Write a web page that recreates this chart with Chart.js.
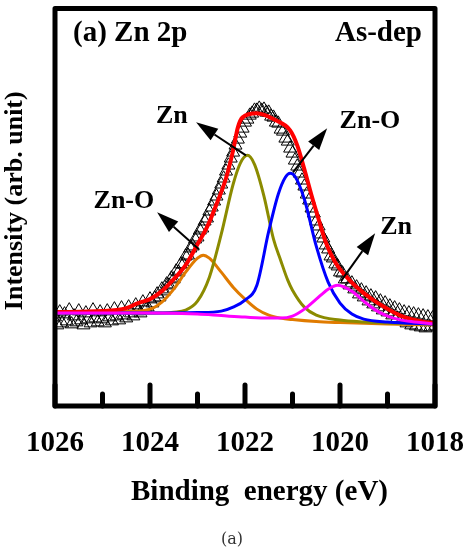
<!DOCTYPE html>
<html><head><meta charset="utf-8">
<script src="https://cdn.jsdelivr.net/npm/chart.js@4/dist/chart.umd.min.js"></script>
<style>html,body{margin:0;padding:0;background:#fff;overflow:hidden}canvas{display:block}</style>
</head><body>
<canvas id="c" width="465" height="550"></canvas>
<script>
// ---- data (binding energy in eV, intensity in arb. units) ----
const measuredEnergy = [
  1026.00,1025.95,1025.90,1025.85,1025.80,1025.75,1025.70,1025.65,1025.60,1025.55,1025.50,1025.45,1025.40,1025.35,1025.30,1025.25,1025.20,1025.15,1025.10,1025.05,
  1025.00,1024.95,1024.90,1024.85,1024.80,1024.75,1024.70,1024.65,1024.60,1024.55,1024.50,1024.45,1024.40,1024.35,1024.30,1024.25,1024.20,1024.15,1024.10,1024.05,
  1024.00,1023.95,1023.90,1023.85,1023.80,1023.75,1023.70,1023.65,1023.60,1023.55,1023.50,1023.45,1023.40,1023.35,1023.30,1023.25,1023.20,1023.15,1023.10,1023.05,
  1023.00,1022.95,1022.90,1022.85,1022.80,1022.75,1022.70,1022.65,1022.60,1022.55,1022.50,1022.45,1022.40,1022.35,1022.30,1022.25,1022.20,1022.15,1022.10,1022.05,
  1022.00,1021.95,1021.90,1021.85,1021.80,1021.75,1021.70,1021.65,1021.60,1021.55,1021.50,1021.45,1021.40,1021.35,1021.30,1021.25,1021.20,1021.15,1021.10,1021.05,
  1021.00,1020.95,1020.90,1020.85,1020.80,1020.75,1020.70,1020.65,1020.60,1020.55,1020.50,1020.45,1020.40,1020.35,1020.30,1020.25,1020.20,1020.15,1020.10,1020.05,
  1020.00,1019.95,1019.90,1019.85,1019.80,1019.75,1019.70,1019.65,1019.60,1019.55,1019.50,1019.45,1019.40,1019.35,1019.30,1019.25,1019.20,1019.15,1019.10,1019.05,
  1019.00,1018.95,1018.90,1018.85,1018.80,1018.75,1018.70,1018.65,1018.60,1018.55,1018.50,1018.45,1018.40,1018.35,1018.30,1018.25,1018.20,1018.15,1018.10,1018.05,
  1018.00];
const measuredIntensity = [
  90,82,95,84,93,86,97,83,91,85,96,87,82,94,88,84,97,89,85,95,
  88,84,96,90,86,98,91,87,99,92,89,100,94,91,102,96,94,105,99,100,
  108,104,109,113,110,118,116,123,122,129,128,136,135,143,143,151,152,159,161,168,
  170,177,179,186,189,196,200,206,211,217,223,229,236,242,249,255,262,268,274,279,
  285,288,292,294,297,297,299,297,298,295,295,291,290,285,284,278,276,269,266,259,
  254,247,241,234,227,221,213,207,199,194,186,181,173,169,162,158,151,149,143,141,
  135,134,128,128,122,124,118,120,113,117,110,114,106,111,103,109,100,106,97,104,
  95,101,92,99,89,97,87,95,84,94,82,93,81,92,80,91,79,90,80,89,
  81];

const envelopeEnergy = [1026,1025,1024.5,1024.25,1024,1023.75,1023.5,1023.25,1023,1022.8,1022.6,1022.4,1022.25,1022.15,1022.05,1021.75,1021.35,1021.05,1020.9,1020.75,1020.6,1020.45,1020.3,1020.1,1019.8,1019.5,1019.2,1018.75,1018.5,1018.2,1018];
const envelopeIntensity = [95,96,99,104,108,116,128,142,163,180,203,229,257,280,290,294,287,277,262,238,212,188,165,145,127,114,104,92,88,85,84];

const zn1022Energy = [1026,1024.5,1024,1023.5,1023.25,1023,1022.75,1022.5,1022.25,1022.1,1021.95,1021.8,1021.6,1021.4,1021.25,1021.1,1021,1020.75,1020.5,1020,1019.5,1019,1018];
const zn1022Intensity = [94,94,94,95,97,106,130,173,223,244,252,243,211,168,147,127,117,100,92,87,85,84,83];

const znO1021Energy = [1026,1024,1023,1022.5,1022.25,1022,1021.75,1021.5,1021.3,1021.15,1021.05,1020.95,1020.75,1020.5,1020.25,1020,1019.75,1019.5,1019,1018];
const znO1021Intensity = [94,94,94.5,96,100,107,122,176,213,230,234,231,208,161,125,104,93,88,85,83];

const znO1023Energy = [1026,1025,1024.5,1024,1023.75,1023.5,1023.25,1023,1022.88,1022.75,1022.5,1022.25,1022,1021.75,1021.5,1021.25,1021,1020.5,1020,1019,1018];
const znO1023Intensity = [94,94.5,95.5,98,105,118,135,149,152,149,135,120,108,98,92,89,87.5,85.5,84.5,83,82];

const zn1020Energy = [1026,1024,1023,1022.5,1022,1021.5,1021.25,1021,1020.75,1020.5,1020.25,1020.05,1019.75,1019.5,1019.25,1019,1018.75,1018.5,1018];
const zn1020Intensity = [94,94,93,91.5,90,89,89,91,98,108,118,122,116,106,97,91,87.5,85.5,83];

const majorTicks = [1026,1024,1022,1020,1018];
const minorTicks = [1025,1023,1021,1019];

// annotation texts and anchor points (in data units)
const annoText = ['Zn','Zn-O','Zn-O','Zn'];
const annoLabelE = [1023.54,1024.55,1019.37,1018.82];
const annoLabelI = [291,206,286,180];
const annoTipE = [1023.03,1023.85,1020.27,1019.26];
const annoTipI = [285,195,279,174];
const annoTailE = [1021.98,1022.97,1020.99,1019.98];
const annoTailI = [252,158,235,126];

// ---- chart ----
const SERIF = "'Liberation Serif','Times New Roman',serif";
const pts = (xs, ys) => xs.map((x, i) => ({x: x, y: ys[i]}));
const curve = (label, xs, ys, color, order, width) => ({
  label, data: pts(xs, ys), borderColor: color, backgroundColor: color,
  borderWidth: width, pointRadius: 0, fill: false, showLine: true,
  cubicInterpolationMode: 'monotone', order
});

function arrow(ctx, x1, y1, x2, y2) {
  const ang = Math.atan2(y2 - y1, x2 - x1);
  const L = 22, W = 7;
  const bx = x2 - L * Math.cos(ang), by = y2 - L * Math.sin(ang);
  ctx.beginPath();
  ctx.moveTo(x1, y1); ctx.lineTo(bx, by);
  ctx.lineWidth = 2; ctx.strokeStyle = '#000'; ctx.stroke();
  ctx.beginPath();
  ctx.moveTo(x2, y2);
  ctx.lineTo(bx + W * Math.sin(ang), by - W * Math.cos(ang));
  ctx.lineTo(bx - W * Math.sin(ang), by + W * Math.cos(ang));
  ctx.closePath(); ctx.fillStyle = '#000'; ctx.fill();
}

const decor = {
  id: 'decor',
  afterDatasetsDraw(chart) {
    const {ctx, chartArea: a, scales: {x, y}} = chart;
    ctx.save();
    // frame
    ctx.lineWidth = 5; ctx.lineJoin = 'round'; ctx.strokeStyle = '#000';
    ctx.strokeRect(a.left, a.top, a.right - a.left, a.bottom - a.top);
    // inward ticks
    ctx.lineCap = 'round'; ctx.lineWidth = 5;
    majorTicks.forEach(v => { const px = x.getPixelForValue(v); ctx.beginPath(); ctx.moveTo(px, a.bottom); ctx.lineTo(px, a.bottom - 21); ctx.stroke(); });
    minorTicks.forEach(v => { const px = x.getPixelForValue(v); ctx.beginPath(); ctx.moveTo(px, a.bottom); ctx.lineTo(px, a.bottom - 12); ctx.stroke(); });
    ctx.lineCap = 'butt';
    // annotations
    for (let i = 0; i < annoText.length; i++) {
      arrow(ctx, x.getPixelForValue(annoTailE[i]), y.getPixelForValue(annoTailI[i]),
                 x.getPixelForValue(annoTipE[i]), y.getPixelForValue(annoTipI[i]));
      ctx.font = "bold 26px " + SERIF; ctx.fillStyle = '#000';
      ctx.textAlign = 'center'; ctx.textBaseline = 'middle';
      ctx.fillText(annoText[i], x.getPixelForValue(annoLabelE[i]), y.getPixelForValue(annoLabelI[i]));
    }
    // panel texts
    ctx.font = "bold 29px " + SERIF;
    ctx.textAlign = 'left'; ctx.fillText('(a) Zn 2p', a.left + 18, 34);
    ctx.textAlign = 'right'; ctx.fillText('As-dep', a.right - 13, 34);
    // caption
    ctx.font = "16px 'DejaVu Serif', serif"; ctx.fillStyle = '#333';
    ctx.textAlign = 'center'; ctx.fillText('(a)', 232, 540);
    ctx.restore();
  }
};

new Chart(document.getElementById('c'), {
  type: 'line',
  data: {
    datasets: [
      curve('Zn (1020 eV)', zn1020Energy, zn1020Intensity, '#ff00ff', 1, 3),
      curve('Envelope', envelopeEnergy, envelopeIntensity, '#ff0000', 2, 4),
      curve('Zn-O (1021 eV)', znO1021Energy, znO1021Intensity, '#0000ff', 3, 3),
      curve('Zn (1022 eV)', zn1022Energy, zn1022Intensity, '#8b8b00', 4, 3),
      curve('Zn-O (1023 eV)', znO1023Energy, znO1023Intensity, '#e07b00', 5, 3),
      {
        label: 'Measured', data: pts(measuredEnergy, measuredIntensity), showLine: false,
        pointStyle: 'triangle', pointRadius: 7.5, pointBorderWidth: 1,
        pointBorderColor: '#000', pointBackgroundColor: 'rgba(255,255,255,0)', order: 10
      }
    ]
  },
  options: {
    responsive: false, animation: false, devicePixelRatio: 1,
    layout: {padding: {left: 0, right: 30, top: 8, bottom: 0}},
    plugins: {legend: {display: false}, tooltip: {enabled: false}},
    scales: {
      x: {
        type: 'linear', min: 1018, max: 1026, reverse: true, position: 'bottom',
        grid: {display: false, drawTicks: false}, border: {display: false},
        ticks: {stepSize: 2, padding: 20, color: '#000', autoSkip: false, maxRotation: 0,
          font: {family: SERIF, size: 29, weight: 'bold'}, callback: v => String(v)},
        title: {display: true, text: '    Binding  energy (eV)', color: '#000',
          font: {family: SERIF, size: 29, weight: 'bold'}, padding: {top: 0, bottom: 40}},
        afterFit: s => { s.height = 144; s.paddingLeft = 0; s.paddingRight = 0; }
      },
      y: {
        min: 1, max: 399,
        grid: {display: false}, border: {display: false}, ticks: {display: false},
        title: {display: true, text: '  Intensity (arb. unit)', color: '#000',
          font: {family: SERIF, size: 26, weight: 'bold'}, padding: {top: 0, bottom: 0}},
        afterFit: s => { s.width = 55; s.paddingTop = 0; s.paddingBottom = 0; }
      }
    }
  },
  plugins: [decor]
});
</script>
</body></html>
